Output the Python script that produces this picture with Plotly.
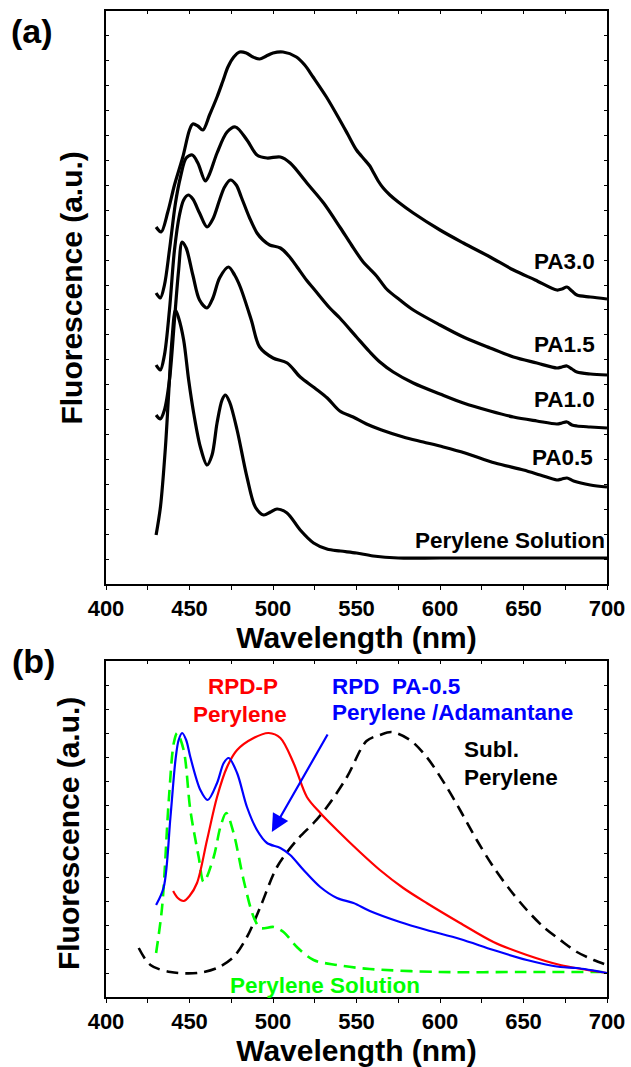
import plotly.graph_objects as go

# ---------------- Panel (a) data (wavelength nm, fluorescence a.u.) ----------------
pa30_x = [430, 433, 437, 441, 446, 450, 452, 455, 458, 462, 466.5, 470, 473, 476.5, 480, 484, 488, 492, 496, 500,
          506, 514, 519, 524, 532, 540, 545, 550, 555, 558, 560, 563, 566, 570, 575, 584, 600, 614, 630, 644, 657,
          670, 673, 676, 679, 682, 690, 700]
pa30_y = [357, 352, 372, 399, 427, 454, 460, 458, 454, 469, 487, 503, 517, 527, 532, 531, 527, 525, 528, 531,
          532, 527, 519, 507, 487, 464, 449, 434, 424, 418, 412, 403, 396, 389, 382, 371, 354, 341, 327, 314, 304,
          294, 295, 297, 293, 289, 287, 285]

pa15_x = [430, 432.5, 435, 438, 441.6, 444.6, 448, 451.7, 455, 459.5, 462, 466.5, 472.5, 477.5, 484.4, 490.4, 496.4,
          504.4, 510.3, 520.3, 530.3, 540.4, 547, 554, 558, 562, 568, 576, 584, 600, 614, 630, 644, 658, 670, 673,
          676, 679, 682, 690, 700]
pa15_y = [291, 286, 299, 334, 381, 407, 426, 429, 421, 403, 410, 431, 452, 457, 444, 429, 426,
          427, 421, 401, 381, 356, 339, 322, 315, 308, 295, 284, 274, 259, 247, 236, 227, 221, 216, 217,
          218, 215, 212, 210, 209]

pa10_x = [430, 432.5, 435, 438, 441, 444, 446.5, 449.3, 452, 456, 460.5, 464, 468, 471, 474.5, 478, 481, 486, 490.4,
          494, 498, 504.4, 510, 514.4, 520, 525, 534, 540, 550, 558, 564, 572, 584, 600, 614, 630, 644, 658, 670,
          673, 676, 679, 682, 690, 700]
pa10_y = [219, 214, 229, 274, 334, 369, 384, 389, 385, 371, 357, 365, 384, 397, 404, 399, 387, 366, 351,
          344, 339, 336, 327, 317, 304, 294, 276, 266, 247, 232, 222, 212, 201, 190, 181, 173, 167, 163, 160,
          161, 162, 159, 158, 157, 156]

pa05_x = [430, 432.5, 435, 438, 441, 443.5, 445.6, 448, 452, 456, 460.5, 464, 468, 473.3, 477, 480.4, 487, 492, 500,
          508.5, 516.3, 525, 532.5, 540, 548, 556, 565, 578, 590, 602, 615, 633, 650, 660, 670, 673, 676, 680, 690, 700]
pa05_y = [169, 165, 174, 204, 264, 314, 342, 336, 309, 284, 276, 286, 306, 317, 309, 297, 264, 237, 226,
          221, 207, 196, 186, 173, 167, 160, 154, 147, 142, 137, 131, 121, 114, 109, 104, 105, 106, 103, 99, 97]

sol_x = [430, 432.6, 435.6, 437.4, 439.5, 441.6, 443.5, 446.5, 449.5, 452.5, 456.5, 460.5, 463.5, 466.5, 469.5, 471.5,
         474, 478.5, 484.4, 489.4, 494.4, 498.5, 502.4, 508.4, 516.3, 524.3, 532.3, 540.4, 550, 560, 575, 600, 650, 700]
sol_y = [49, 77, 137, 187, 244, 274, 266, 244, 204, 171, 137, 119, 129, 161, 184, 189,
         182, 154, 107, 77, 69, 72, 75, 71, 54, 41, 35, 33, 31, 28, 26, 26, 26, 26]

# ---------------- Panel (b) data ----------------
blue_x = [430, 434.6, 438.6, 441.6, 443.5, 445.6, 448, 450.5, 456.5, 460.9, 466.5, 470.5, 473.5, 478.5, 484.4, 490.4,
          496.4, 504.4, 510.3, 518.3, 528.3, 538.3, 548.2, 558, 576, 592, 612, 632, 652, 672, 682, 700]
blue_y = [92, 110, 180, 237, 257, 264, 257, 240, 207, 197, 214, 234, 239, 224, 190, 167,
          154, 149, 142, 127, 110, 99, 94, 86, 75, 67, 58, 47, 37, 30, 29, 24]

red_x = [440.2, 443, 446.5, 450, 454.5, 460.5, 466.5, 472.5, 478.5, 488.4, 497.4, 504.4, 512.3, 520.3, 528.3, 538.3,
         552, 564, 578, 592, 612, 632, 652, 672, 700]
red_y = [106, 99, 96, 101, 114, 157, 200, 230, 247, 259, 264, 259, 234, 200, 184, 167,
         145, 127, 109, 94, 74, 55, 42, 32, 24]

green_x = [430, 433.6, 437.6, 440.6, 442.6, 446.5, 450.5, 455.5, 458.5, 464.5, 468.5, 472, 476.4, 482.4, 488.4, 492.4,
           500.4, 506.3, 514.3, 524.3, 538.3, 558, 600, 650, 700]
green_y = [44, 90, 197, 254, 264, 247, 187, 140, 115, 140, 170, 184, 164, 117, 80, 69,
           70, 65, 50, 37, 32, 28, 25, 25, 25]

black_x = [419.6, 426.6, 438.6, 454.5, 466.5, 476.4, 484.4, 492.4, 502.4, 514.3, 524.3, 532.3, 544.3, 556, 564, 571,
           582, 592, 604, 612, 622, 632, 642, 652, 662, 672, 682, 692, 700]
black_y = [49, 32, 25, 24, 29, 40, 60, 90, 130, 157, 174, 190, 220, 256, 262, 265,
           257, 240, 210, 187, 157, 130, 107, 87, 70, 57, 45, 37, 32]

# arrow (tail -> tip), panel (b)
arrow_tail = (533.2, 264)
arrow_tip = (499.3, 165)

x_ticks = [400, 450, 500, 550, 600, 650, 700]

FONT = "Liberation Sans, Arial, sans-serif"
W, H = 631, 1067
ANN = 22.5

fig = go.Figure()

def add_line(x, y, color, width, dash="solid", xa="x", ya="y"):
    fig.add_trace(go.Scatter(x=x, y=y, mode="lines", xaxis=xa, yaxis=ya, showlegend=False,
                             line=dict(color=color, width=width, dash=dash, shape="spline", smoothing=0.9),
                             hoverinfo="skip"))

for xs, ys in [(pa30_x, pa30_y), (pa15_x, pa15_y), (pa10_x, pa10_y), (pa05_x, pa05_y), (sol_x, sol_y)]:
    add_line(xs, ys, "black", 3.2)

add_line(black_x, black_y, "black", 2.6, "12px,7px", "x2", "y2")
add_line(green_x, green_y, "#00ff00", 2.6, "12px,7px", "x2", "y2")
add_line(red_x, red_y, "#ff0000", 2.2, "solid", "x2", "y2")
add_line(blue_x, blue_y, "#0000ff", 2.2, "solid", "x2", "y2")

# dummy traces so the top tick axes render
fig.add_trace(go.Scatter(x=[None], y=[None], xaxis="x3", yaxis="y", showlegend=False, hoverinfo="skip"))
fig.add_trace(go.Scatter(x=[None], y=[None], xaxis="x4", yaxis="y2", showlegend=False, hoverinfo="skip"))

dom_a = [1 - 584 / H, 1 - 11 / H]
dom_b = [1 - 997 / H, 1 - 661 / H]

def xaxis(anchor, title):
    return dict(domain=[0, 1], anchor=anchor, range=[400, 700], tickvals=x_ticks,
                ticks="outside", ticklen=4, tickwidth=1.3, tickcolor="black",
                minor=dict(dtick=25, tick0=400, ticks="outside", ticklen=4, tickwidth=1.3, tickcolor="black"),
                showline=True, linecolor="black", linewidth=1.5, mirror=True, showgrid=False, zeroline=False,
                tickfont=dict(family=FONT, size=22, color="black", weight="bold"),
                title=dict(text=title, font=dict(family=FONT, size=30, color="black", weight="bold"), standoff=0))

def topaxis(over, anchor):
    return dict(overlaying=over, anchor=anchor, side="top", range=[400, 700], dtick=25, tick0=400,
                ticks="inside", ticklen=3, tickwidth=1.2, tickcolor="black", showticklabels=False,
                showgrid=False, zeroline=False, showline=False)

def yaxis(anchor, dom, rng, dt):
    return dict(domain=dom, anchor=anchor, range=rng, tick0=0, dtick=dt, ticks="inside", ticklen=3,
                tickwidth=1.2, tickcolor="black", showticklabels=False, showline=True, linecolor="black",
                linewidth=1.5, mirror="ticks", showgrid=False, zeroline=False)

ann = []
def txt(text, x, y, color="black", size=ANN, xanchor="center", xref="x", yref="y", angle=0):
    ann.append(dict(text=text, x=x, y=y, xref=xref, yref=yref, showarrow=False, xanchor=xanchor, yanchor="middle",
                    textangle=angle, font=dict(family=FONT, size=size, color=color, weight="bold")))

# y-axis titles
txt("Fluorescence (a.u.)", (71 - 106) / 502, 1 - 288.5 / H, size=30, xref="paper", yref="paper", angle=-90)
txt("Fluorescence (a.u.)", (68 - 106) / 502, 1 - 834 / H, size=30, xref="paper", yref="paper", angle=-90)

txt("PA3.0", 694, 322, xanchor="right")
txt("PA1.5", 694, 239, xanchor="right")
txt("PA1.0", 694, 184, xanchor="right")
txt("PA0.5", 693, 126, xanchor="right")
txt("Perylene Solution", 700, 44, xanchor="right")

txt("RPD-P", 482, 311, "#ff0000", xref="x2", yref="y2")
txt("Perylene", 480.5, 283, "#ff0000", xref="x2", yref="y2")
txt("RPD  PA-0.5", 534, 311, "#0000ff", xanchor="left", xref="x2", yref="y2")
txt("Perylene /Adamantane", 534, 285, "#0000ff", xanchor="left", xref="x2", yref="y2")
txt("Subl.", 613, 248, "black", xanchor="left", xref="x2", yref="y2")
txt("Perylene", 613, 220, "black", xanchor="left", xref="x2", yref="y2")
txt("Perylene Solution", 473.3, 12, "#00ff00", xanchor="left", xref="x2", yref="y2")

txt("(a)", -0.147, 1 - 31 / H, size=34, xref="paper", yref="paper")
txt("(b)", -0.145, 1 - 661 / H, size=34, xref="paper", yref="paper")

ann.append(dict(x=arrow_tip[0], y=arrow_tip[1], ax=arrow_tail[0], ay=arrow_tail[1], xref="x2", yref="y2",
                axref="x2", ayref="y2", showarrow=True, arrowhead=2, arrowsize=1.6, arrowwidth=2.2,
                arrowcolor="#0000ff", text=""))

fig.update_layout(
    width=W, height=H, margin=dict(l=106, r=24, t=0, b=0),
    paper_bgcolor="white", plot_bgcolor="white",
    xaxis=xaxis("y", "Wavelength (nm)"),
    yaxis=yaxis("x", dom_a, [0, 573], 573 / 23),
    xaxis2=xaxis("y2", "Wavelength (nm)"),
    yaxis2=yaxis("x2", dom_b, [0, 336], 24),
    xaxis3=topaxis("x", "y"),
    xaxis4=topaxis("x2", "y2"),
    annotations=ann,
    showlegend=False,
)

fig.write_html("out.html")
